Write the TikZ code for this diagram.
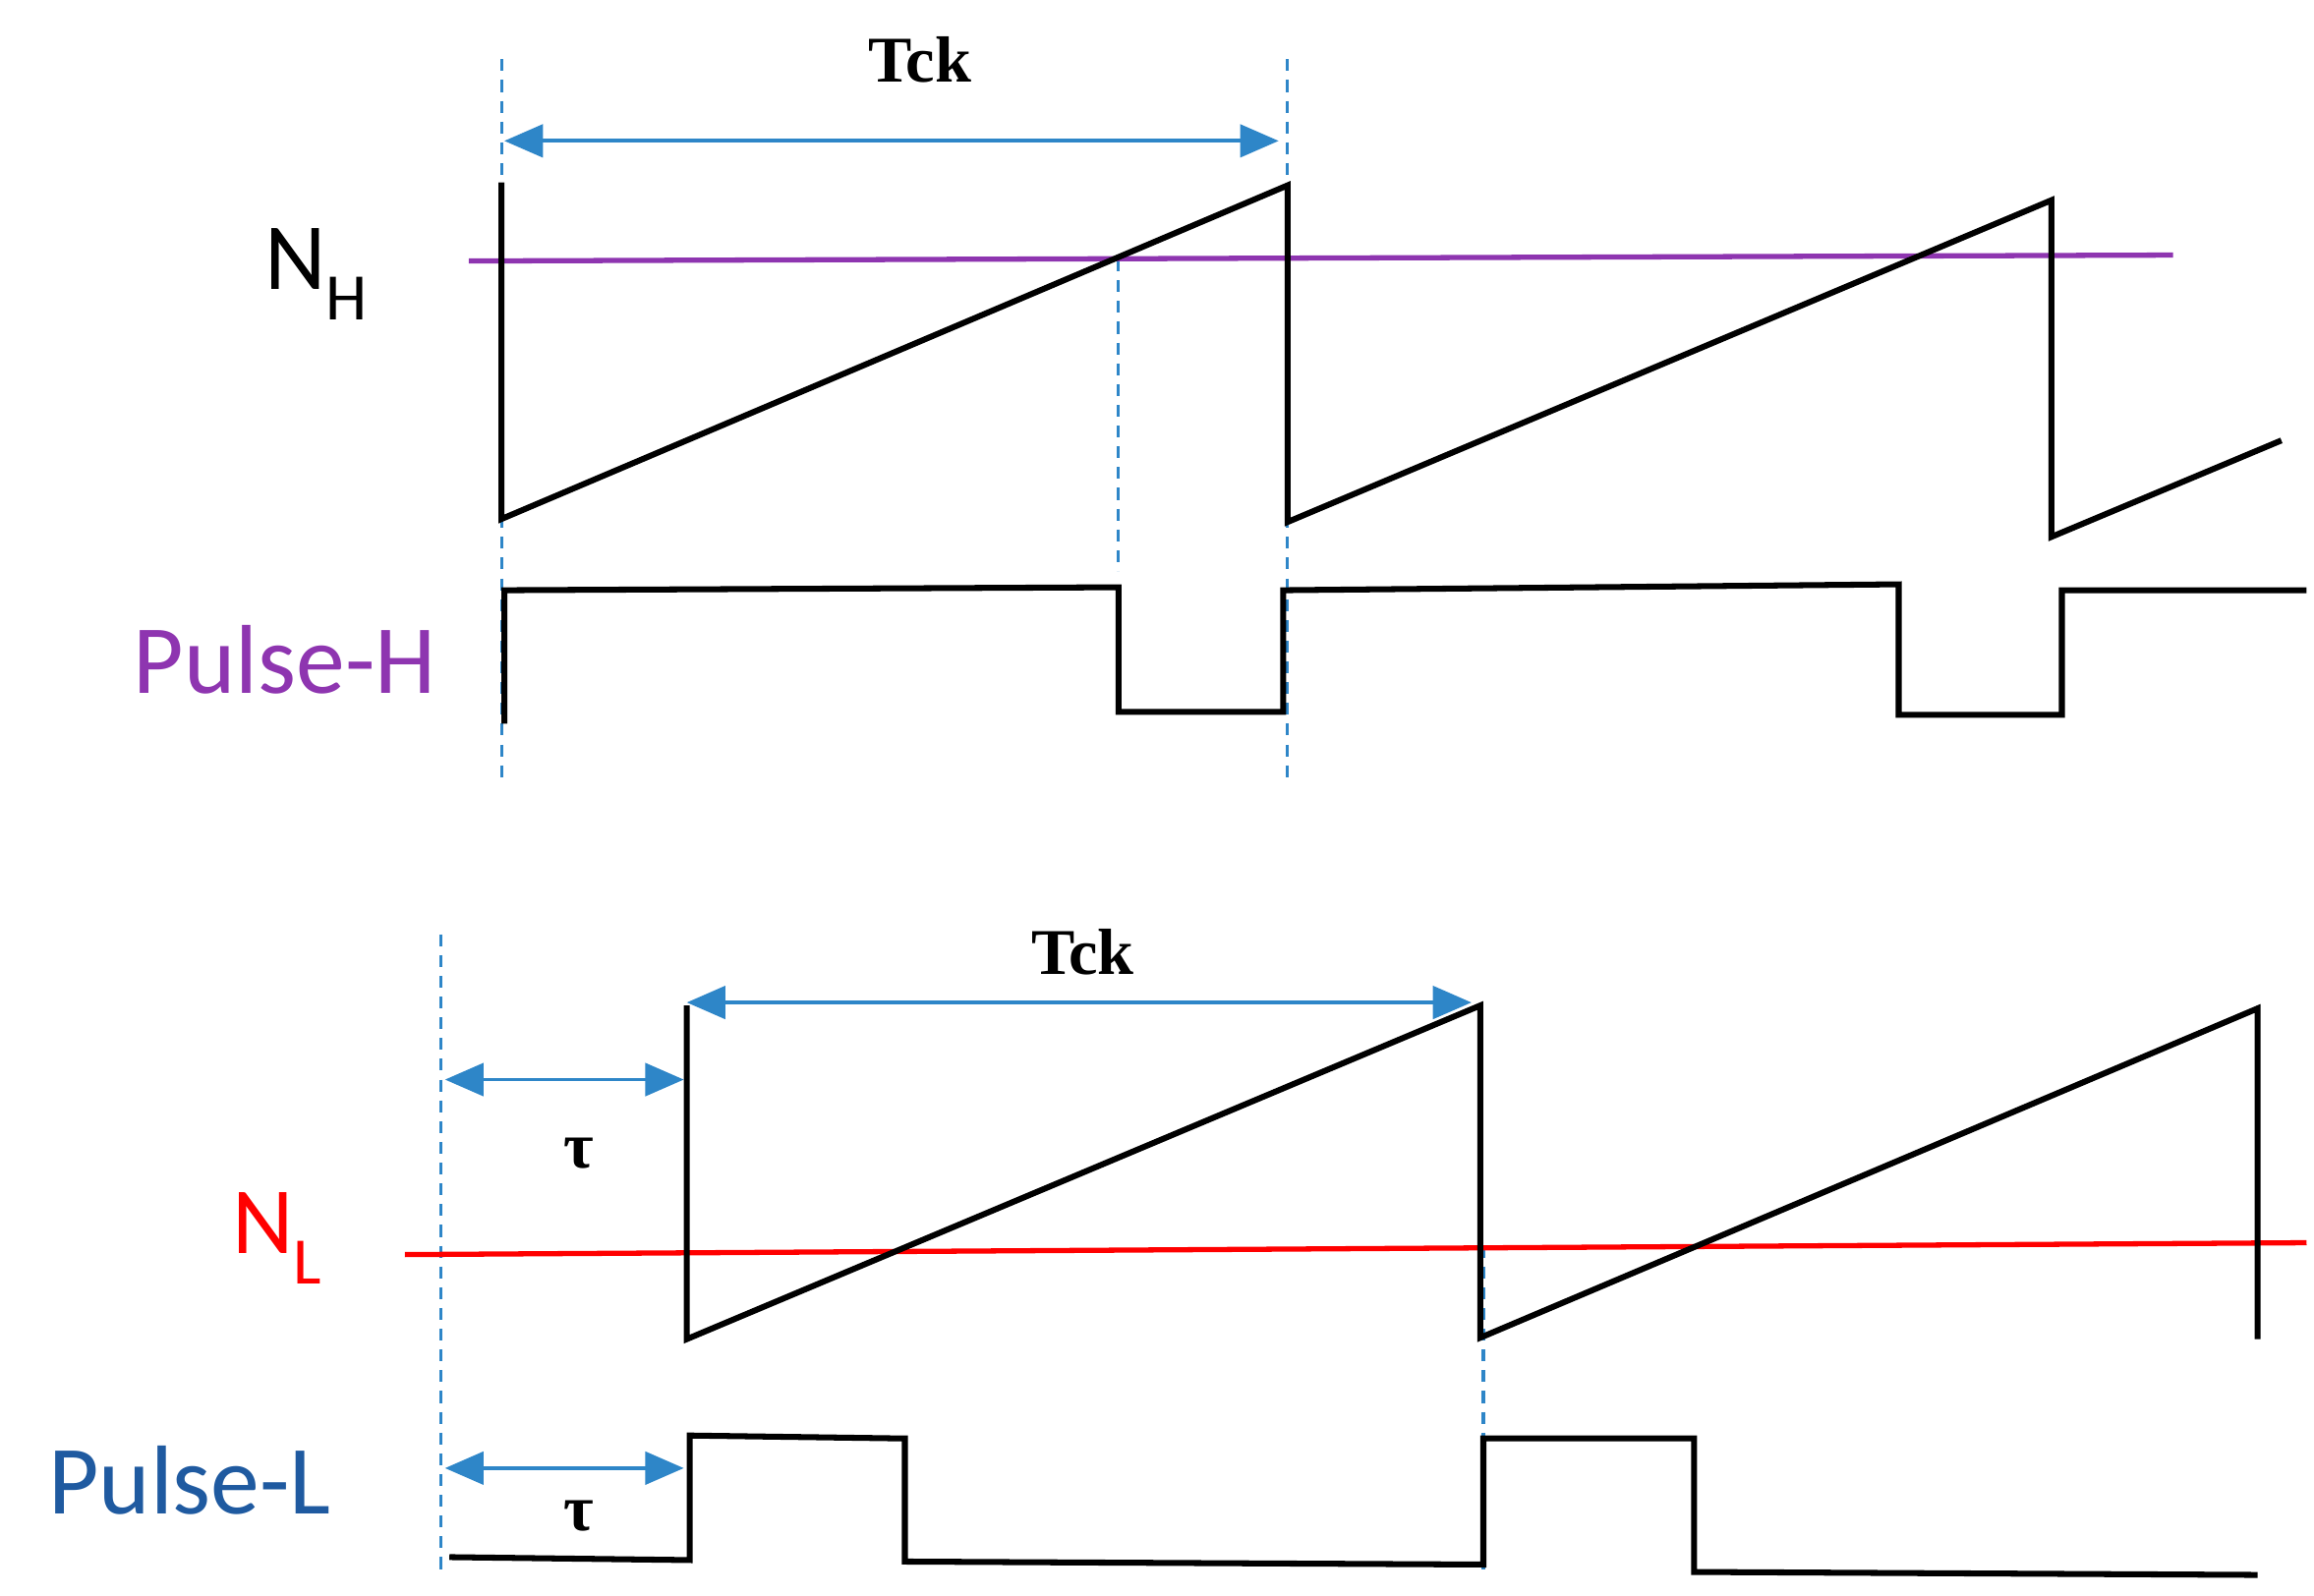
\documentclass[tikz,border=0pt]{standalone}
\usepackage{fontspec}
\setmainfont{Liberation Serif}
\newfontfamily\lab{Carlito}
\usetikzlibrary{arrows.meta}
\definecolor{dblue}{HTML}{2E86C8}
\definecolor{pur}{HTML}{8E35B0}
\definecolor{nblue}{HTML}{1F5AA0}
\begin{document}
\begin{tikzpicture}[x=1pt,y=-1pt,
 wave/.style={line width=4pt,black,line join=miter},
 guide/.style={dblue,line width=2pt,dash pattern=on 8pt off 6pt},
 dim/.style={dblue,line width=2.5pt,{Triangle[length=26pt,width=22pt]}-{Triangle[length=26pt,width=22pt]}},
 tl/.style={font=\fontsize{44}{48}\selectfont\bfseries},
 sl/.style={font=\lab\fontsize{66}{70}\selectfont}]
\useasboundingbox (0,0) rectangle (1560,1076);
% top
\coordinate (g1a) at (338,40); \coordinate (g1b) at (338,525);
\coordinate (g2a) at (868,40); \coordinate (g2b) at (868,525);
\coordinate (g3a) at (754,175); \coordinate (g3b) at (754,385);
\draw[guide] (g1a)--(g1b); \draw[guide] (g2a)--(g2b); \draw[guide] (g3a)--(g3b);
\coordinate (t1) at (340,95); \coordinate (t2) at (862,95);
\draw[dim] (t1)--(t2);
\node[tl] (tck1) at (620,40) {Tck};
\coordinate (nh1) at (316,176); \coordinate (nh2) at (1465,172);
\draw[pur,line width=3.5pt] (nh1)--(nh2);
\node[font=\lab\fontsize{64}{68}\selectfont,anchor=west] (NH) at (175,185) {N\textsubscript{H}};
\draw[wave] (338,123)--(338,350)--(868,125)--(868,352)--(1383,135)--(1383,362)--(1538,297);
\draw[wave] (340,488)--(340,398)--(754,396)--(754,480)--(865,480)--(865,398)--(1280,394)--(1280,482)--(1390,482)--(1390,398)--(1555,398);
\node[sl,pur] (PH) at (192,445) {Pulse-H};
% bottom
\coordinate (g4a) at (297,630); \coordinate (g4b) at (297,1060);
\coordinate (g5a) at (1000,840); \coordinate (g5b) at (1000,1058);
\draw[guide] (g4a)--(g4b); \draw[guide] (g5a)--(g5b);
\coordinate (t3) at (463,676); \coordinate (t4) at (992,676);
\draw[dim] (t3)--(t4);
\node[tl] (tck2) at (730,642) {Tck};
\coordinate (u1) at (300,728); \coordinate (u2) at (461,728);
\draw[dim] (u1)--(u2);
\node[tl] (tau1) at (390,778) {τ};
\coordinate (u3) at (300,990); \coordinate (u4) at (461,990);
\draw[dim] (u3)--(u4);
\node[tl] (tau2) at (390,1022) {τ};
\coordinate (nl1) at (273,846); \coordinate (nl2) at (1555,838);
\draw[red,line width=3.5pt] (nl1)--(nl2);
\node[font=\lab\fontsize{64}{68}\selectfont,red,anchor=west] (NL) at (153,835) {N\textsubscript{L}};
\draw[wave] (463,678)--(463,903)--(998,678)--(998,902)--(1522,680)--(1522,903);
\draw[wave] (303,1050)--(465,1052)--(465,968)--(610,970)--(610,1053)--(1000,1055)--(1000,970)--(1142,970)--(1142,1060)--(1522,1062);
\node[sl,nblue] (PL) at (128,998) {Pulse-L};
\end{tikzpicture}
\end{document}
